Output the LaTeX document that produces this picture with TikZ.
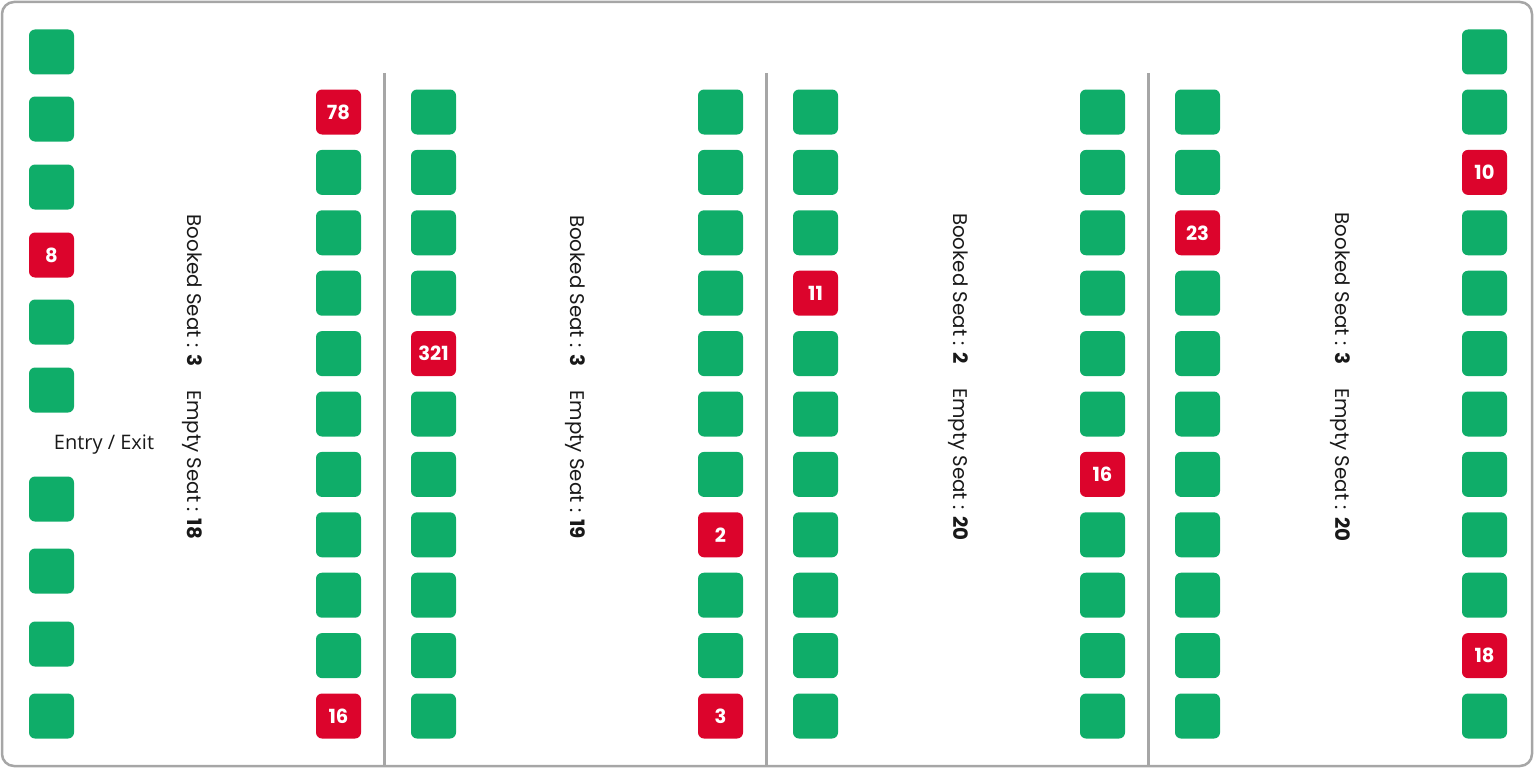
\documentclass[tikz,border=0pt]{standalone}
\usepackage{fontspec}
\setmainfont{Poppins}
\newfontfamily\entryfont{Open Sans}
\usepackage{tikz}
\usetikzlibrary{positioning}

\definecolor{seatgreen}{RGB}{15,173,105}
\definecolor{seatred}{RGB}{220,4,44}
\definecolor{framegray}{RGB}{166,166,166}

\tikzset{
    seat/.style={rounded corners=6pt, minimum width=45pt, minimum height=45pt,
        inner sep=0pt, text=white, font=\fontsize{19.5}{19.5}\selectfont\bfseries},
    free/.style={seat, fill=seatgreen},
    booked/.style={seat, fill=seatred},
    divider/.style={framegray, line width=3pt},
    count/.style={rotate=-90, font=\fontsize{19.8}{19.8}\selectfont, text=black!90}
}

\begin{document}
\begin{tikzpicture}[x=1pt, y=-1pt]
    \useasboundingbox (0,0) rectangle (1534,768);
    \draw[framegray, line width=2.5pt, rounded corners=12pt] (2,2) rectangle (1532,766);

    % Aisle dividers
    \draw[divider] (384,73) -- (384,766);
    \draw[divider] (766,73) -- (766,766);
    \draw[divider] (1148,73) -- (1148,766);

    % Door side column
    \foreach \y/\s/\t [count=\r] in {52/free/, 119/free/, 187/free/, 255/booked/8, 322/free/,
        390/free/, 499/free/, 571/free/, 644/free/, 716/free/}
        \node[\s] (a\r) at (51.5,\y) {\t};
    \node[font=\entryfont\fontsize{20}{20}\selectfont, text=black!90] (door) at (104,445) {Entry / Exit};

    % Section 1
    \foreach \r/\s/\t in {1/booked/78, 2/free/, 3/free/, 4/free/, 5/free/, 6/free/,
        7/free/, 8/free/, 9/free/, 10/free/, 11/booked/16}
        \node[\s] (b\r) at (338.5,{112+60.4*(\r-1)}) {\t};
    \node[count] (info1) at (192,377) {Booked Seat : \textbf{3}\hspace{24pt}Empty Seat : \textbf{18}};

    % Section 2
    \foreach \r/\s/\t in {1/free/, 2/free/, 3/free/, 4/free/, 5/booked/321, 6/free/,
        7/free/, 8/free/, 9/free/, 10/free/, 11/free/}
        \node[\s] (c\r) at (433.5,{112+60.4*(\r-1)}) {\t};
    \foreach \r/\s/\t in {1/free/, 2/free/, 3/free/, 4/free/, 5/free/, 6/free/,
        7/free/, 8/booked/2, 9/free/, 10/free/, 11/booked/3}
        \node[\s] (d\r) at (720.5,{112+60.4*(\r-1)}) {\t};
    \node[count] (info2) at (575,377) {Booked Seat : \textbf{3}\hspace{24pt}Empty Seat : \textbf{19}};

    % Section 3
    \foreach \r/\s/\t in {1/free/, 2/free/, 3/free/, 4/booked/11, 5/free/, 6/free/,
        7/free/, 8/free/, 9/free/, 10/free/, 11/free/}
        \node[\s] (e\r) at (815.5,{112+60.4*(\r-1)}) {\t};
    \foreach \r/\s/\t in {1/free/, 2/free/, 3/free/, 4/free/, 5/free/, 6/free/,
        7/booked/16, 8/free/, 9/free/, 10/free/, 11/free/}
        \node[\s] (f\r) at (1102.5,{112+60.4*(\r-1)}) {\t};
    \node[count] (info3) at (958,377) {Booked Seat : \textbf{2}\hspace{24pt}Empty Seat : \textbf{20}};

    % Section 4
    \foreach \r/\s/\t in {1/free/, 2/free/, 3/booked/23, 4/free/, 5/free/, 6/free/,
        7/free/, 8/free/, 9/free/, 10/free/, 11/free/}
        \node[\s] (g\r) at (1197.5,{112+60.4*(\r-1)}) {\t};
    \node[count] (info4) at (1340,377) {Booked Seat : \textbf{3}\hspace{24pt}Empty Seat : \textbf{20}};

    % Back wall column
    \node[free] (h0) at (1484.5,52) {};
    \foreach \r/\s/\t in {1/free/, 2/booked/10, 3/free/, 4/free/, 5/free/, 6/free/,
        7/free/, 8/free/, 9/free/, 10/booked/18, 11/free/}
        \node[\s] (h\r) at (1484.5,{112+60.4*(\r-1)}) {\t};
\end{tikzpicture}
\end{document}
